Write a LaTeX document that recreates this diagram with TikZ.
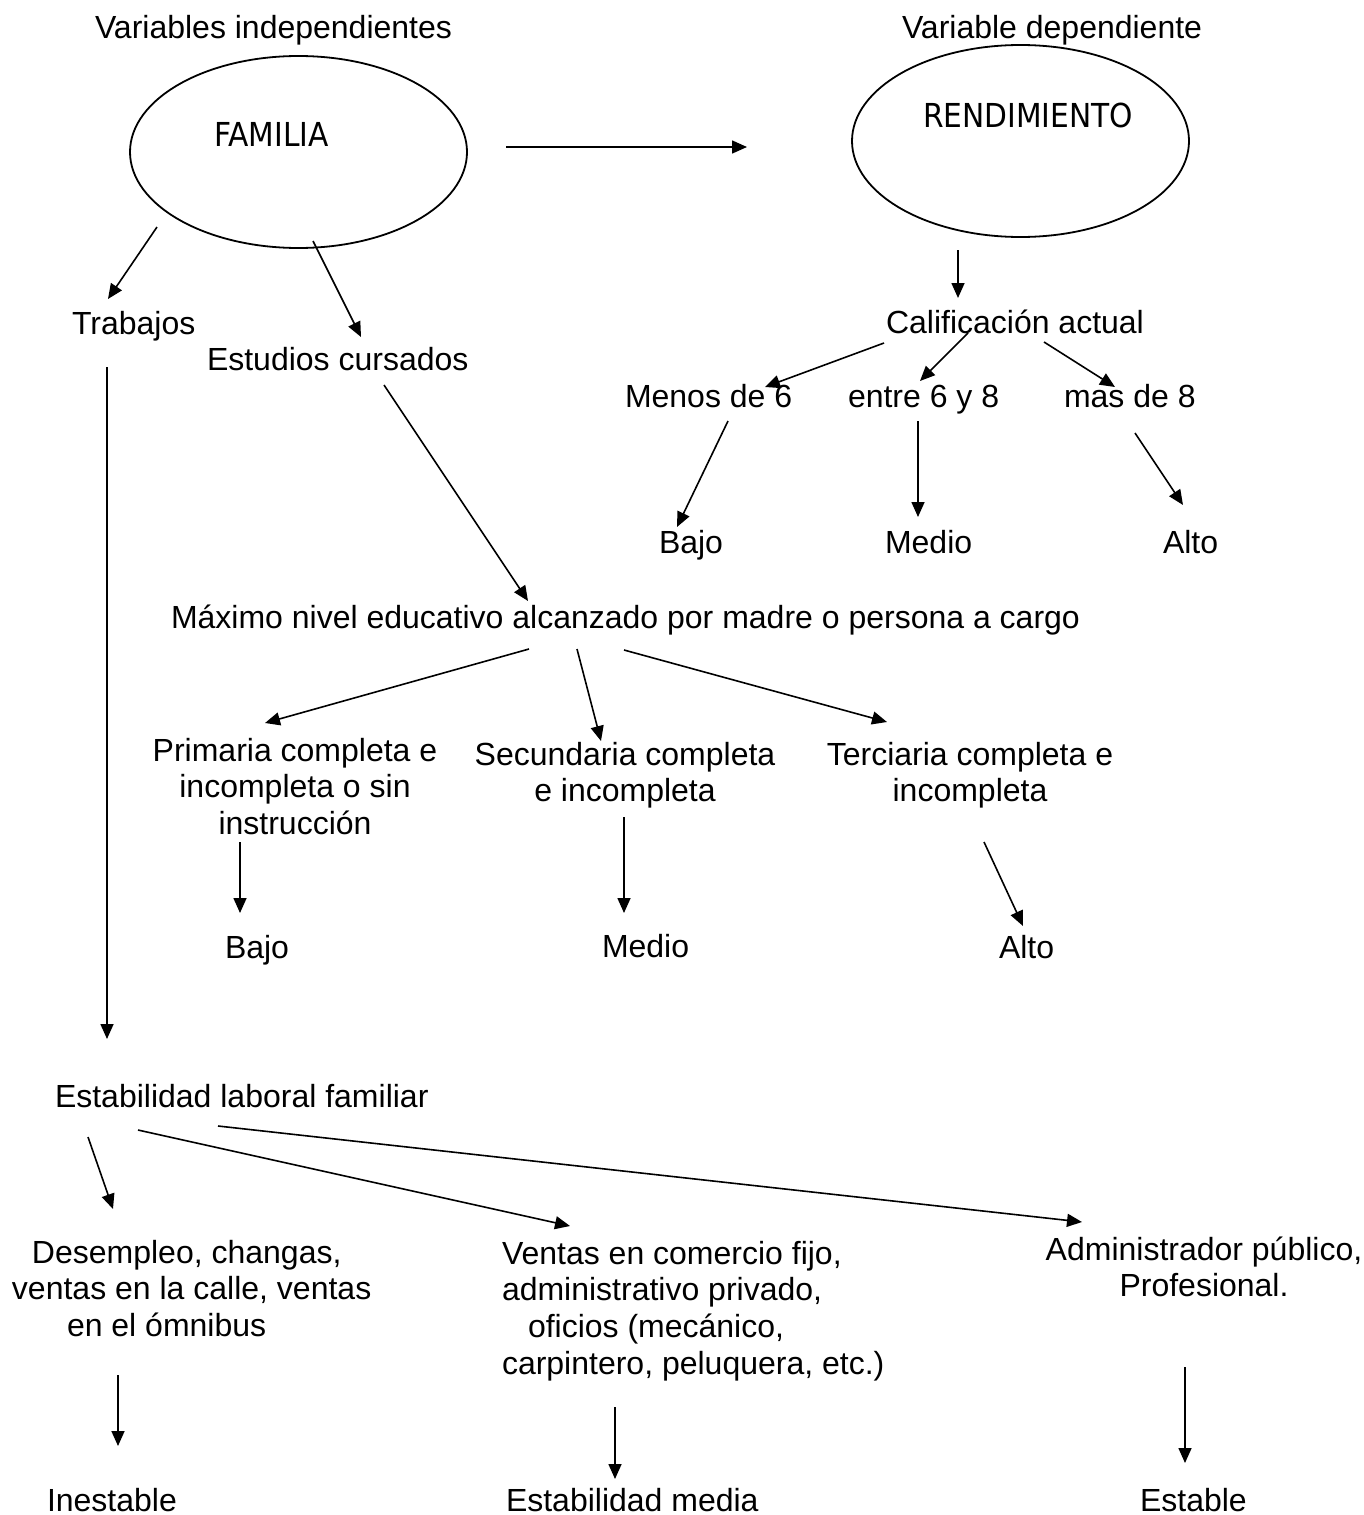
\documentclass[tikz,border=0pt]{standalone}
\usepackage{fontspec}
\setmainfont{Liberation Sans}
\newfontfamily\tahfont{DejaVu Sans}[FakeStretch=0.9]
\usetikzlibrary{arrows.meta,shapes.geometric}
\tikzset{
  txt/.style={inner sep=0pt,outer sep=0pt,font=\fontsize{32}{36.8}\selectfont},
  lt/.style={txt,anchor=base west},
  ct/.style={txt,anchor=base},
  tah/.style={inner sep=0pt,outer sep=0pt,anchor=base west,font=\tahfont\fontsize{33}{38}\selectfont},
  oval/.style={draw,ellipse,line width=1.8pt,inner sep=0pt,minimum width=337pt,minimum height=192pt},
  arr/.style={line width=1.6pt,-{Triangle[length=15pt,width=13pt]}},
}
\newcommand{\blk}[2]{\begin{tabular}[t]{@{}#1@{}}#2\end{tabular}}
\begin{document}
\begin{tikzpicture}[x=1pt,y=-1pt]
\useasboundingbox[fill=white] (0,0) rectangle (1364,1515);

% ---- ellipses and headings
\node[lt] (hind) at (95,38) {Variables independientes};
\node[lt] (hdep) at (902,38) {Variable dependiente};
\node[oval] (famE) at (298.5,152) {};
\node[oval] (renE) at (1020.5,141) {};
\node[tah] (famT) at (214,146) {FAMILIA};
\node[tah] (renT) at (923,127) {RENDIMIENTO};

% ---- right branch
\node[lt] (calif) at (886,333) {Calificación actual};
\node[lt] (menos) at (625,407) {Menos de 6};
\node[lt] (entre) at (848,407) {entre 6 y 8};
\node[lt] (mas)   at (1064,407) {mas de 8};
\node[lt] (bajoA) at (659,553) {Bajo};
\node[lt] (medioA) at (885,553) {Medio};
\node[lt] (altoA) at (1163,553) {Alto};

% ---- left branch
\node[lt] (trab) at (72,334) {Trabajos};
\node[lt] (estud) at (207,370) {Estudios cursados};
\node[lt] (maxn) at (171,628) {Máximo nivel educativo alcanzado por madre o persona a cargo};
\node[ct] (prim) at (295,761) {\blk{c}{Primaria completa e\\incompleta o sin\\instrucción}};
\node[ct] (secu) at (625,765) {\blk{c}{Secundaria completa\\e incompleta}};
\node[ct] (terc) at (970,765) {\blk{c}{Terciaria completa e\\incompleta}};
\node[lt] (bajoB) at (225,958) {Bajo};
\node[lt] (medioB) at (602,957) {Medio};
\node[lt] (altoB) at (999,958) {Alto};

% ---- labour stability
\node[lt] (estab) at (55,1107) {Estabilidad laboral familiar};
\node[lt] (desem) at (12,1263) {\blk{l}{\hspace*{20pt}Desempleo, changas,\\ventas en la calle, ventas\\\hspace*{55pt}en el ómnibus}};
\node[lt] (venta) at (502,1264) {\blk{l}{Ventas en comercio fijo,\\administrativo privado,\\\hspace*{26pt}oficios (mecánico,\\carpintero, peluquera, etc.)}};
\node[ct] (admin) at (1204,1260) {\blk{c}{Administrador público,\\Profesional.}};
\node[lt] (inest) at (47,1511) {Inestable};
\node[lt] (emed) at (506,1511) {Estabilidad media};
\node[lt] (estb) at (1140,1511) {Estable};

% ---- connector end points
\coordinate (s1) at (506,147);  \coordinate (e1) at (747,147);
\coordinate (s2) at (958,250);  \coordinate (e2) at (958,298);
\coordinate (s3) at (884,343);  \coordinate (e3) at (765,387);
\coordinate (s4) at (968,333);  \coordinate (e4) at (920,381);
\coordinate (s5) at (1044,342); \coordinate (e5) at (1115,387);
\coordinate (s6) at (728,421);  \coordinate (e6) at (677,527);
\coordinate (s7) at (918,421);  \coordinate (e7) at (918,517);
\coordinate (s8) at (1135,433); \coordinate (e8) at (1183,505);
\coordinate (s9) at (157,227);  \coordinate (e9) at (108,299);
\coordinate (s10) at (313,241); \coordinate (e10) at (361,337);
\coordinate (s11) at (107,367); \coordinate (e11) at (107,1039);
\coordinate (s12) at (384,385); \coordinate (e12) at (528,601);
\coordinate (s13) at (529,649); \coordinate (e13) at (265,723);
\coordinate (s14) at (577,649); \coordinate (e14) at (601,741);
\coordinate (s15) at (624,650); \coordinate (e15) at (887,722);
\coordinate (s16) at (240,842); \coordinate (e16) at (240,913);
\coordinate (s17) at (624,817); \coordinate (e17) at (624,913);
\coordinate (s18) at (984,842); \coordinate (e18) at (1023,926);
\coordinate (s19) at (88,1137); \coordinate (e19) at (113,1209);
\coordinate (s20) at (138,1130); \coordinate (e20) at (570,1226);
\coordinate (s21) at (218,1126); \coordinate (e21) at (1082,1222);
\coordinate (s22) at (118,1375); \coordinate (e22) at (118,1446);
\coordinate (s23) at (615,1407); \coordinate (e23) at (615,1479);
\coordinate (s24) at (1185,1367); \coordinate (e24) at (1185,1463);

\foreach \i in {1,...,24} { \draw[arr] (s\i) -- (e\i); }
\end{tikzpicture}
\end{document}
